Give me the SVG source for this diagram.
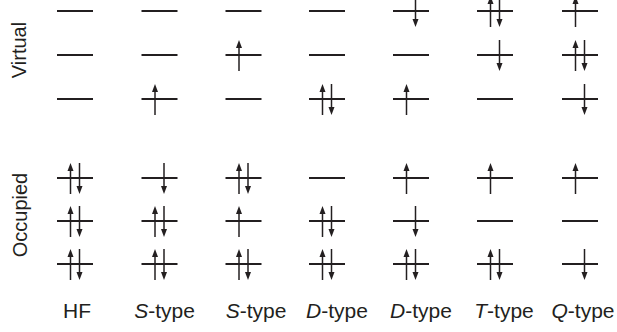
<svg xmlns="http://www.w3.org/2000/svg" width="617" height="332" viewBox="0 0 617 332">
<style>
.lv{stroke:#231f20;stroke-width:2;fill:none}
.ar{stroke:#231f20;stroke-width:1.5;fill:none;marker-end:url(#ah)}
.t{font-family:"Liberation Sans",Arial,sans-serif;font-size:20px;fill:#231f20}
.b{font-size:21px}
</style>
<defs>
<marker id="ah" markerUnits="userSpaceOnUse" markerWidth="8" markerHeight="6" refX="2" refY="3" orient="auto" overflow="visible">
<path d="M0,0 L8,3 L0,6 z" fill="#231f20"/>
</marker>
<line id="L" class="lv" x1="-18" y1="0" x2="18" y2="0"/>
<line id="U" class="ar" x1="-4.5" y1="16" x2="-4.5" y2="-9"/>
<line id="D" class="ar" x1="4.5" y1="-15" x2="4.5" y2="10"/>
</defs>
<rect width="617" height="332" fill="#fff"/>
<text class="t" transform="translate(26,50) rotate(-90)" text-anchor="middle">Virtual</text>
<text class="t" transform="translate(27,215) rotate(-90)" text-anchor="middle">Occupied</text>

<!-- HF -->
<g id="hf">
<g id="hf-v1" transform="translate(75,11)"><use href="#L"/></g>
<g id="hf-v2" transform="translate(75,55)"><use href="#L"/></g>
<g id="hf-v3" transform="translate(75,99)"><use href="#L"/></g>
<g id="hf-o1" transform="translate(75,178)"><use href="#L"/><use href="#U"/><use href="#D"/></g>
<g id="hf-o2" transform="translate(75,221)"><use href="#L"/><use href="#U"/><use href="#D"/></g>
<g id="hf-o3" transform="translate(75,264)"><use href="#L"/><use href="#U"/><use href="#D"/></g>
</g>
<!-- S1 -->
<g id="s1">
<g id="s1-v1" transform="translate(159.5,11)"><use href="#L"/></g>
<g id="s1-v2" transform="translate(159.5,55)"><use href="#L"/></g>
<g id="s1-v3" transform="translate(159.5,99)"><use href="#L"/><use href="#U"/></g>
<g id="s1-o1" transform="translate(159.5,178)"><use href="#L"/><use href="#D"/></g>
<g id="s1-o2" transform="translate(159.5,221)"><use href="#L"/><use href="#U"/><use href="#D"/></g>
<g id="s1-o3" transform="translate(159.5,264)"><use href="#L"/><use href="#U"/><use href="#D"/></g>
</g>
<!-- S2 -->
<g id="s2">
<g id="s2-v1" transform="translate(243.5,11)"><use href="#L"/></g>
<g id="s2-v2" transform="translate(243.5,55)"><use href="#L"/><use href="#U"/></g>
<g id="s2-v3" transform="translate(243.5,99)"><use href="#L"/></g>
<g id="s2-o1" transform="translate(243.5,178)"><use href="#L"/><use href="#U"/><use href="#D"/></g>
<g id="s2-o2" transform="translate(243.5,221)"><use href="#L"/><use href="#U"/></g>
<g id="s2-o3" transform="translate(243.5,264)"><use href="#L"/><use href="#U"/><use href="#D"/></g>
</g>
<!-- D1 -->
<g id="d1">
<g id="d1-v1" transform="translate(327,11)"><use href="#L"/></g>
<g id="d1-v2" transform="translate(327,55)"><use href="#L"/></g>
<g id="d1-v3" transform="translate(327,99)"><use href="#L"/><use href="#U"/><use href="#D"/></g>
<g id="d1-o1" transform="translate(327,178)"><use href="#L"/></g>
<g id="d1-o2" transform="translate(327,221)"><use href="#L"/><use href="#U"/><use href="#D"/></g>
<g id="d1-o3" transform="translate(327,264)"><use href="#L"/><use href="#U"/><use href="#D"/></g>
</g>
<!-- D2 -->
<g id="d2">
<g id="d2-v1" transform="translate(411,11)"><use href="#L"/><use href="#D"/></g>
<g id="d2-v2" transform="translate(411,55)"><use href="#L"/></g>
<g id="d2-v3" transform="translate(411,99)"><use href="#L"/><use href="#U"/></g>
<g id="d2-o1" transform="translate(411,178)"><use href="#L"/><use href="#U"/></g>
<g id="d2-o2" transform="translate(411,221)"><use href="#L"/><use href="#D"/></g>
<g id="d2-o3" transform="translate(411,264)"><use href="#L"/><use href="#U"/><use href="#D"/></g>
</g>
<!-- T -->
<g id="t">
<g id="t-v1" transform="translate(495,11)"><use href="#L"/><use href="#U"/><use href="#D"/></g>
<g id="t-v2" transform="translate(495,55)"><use href="#L"/><use href="#D"/></g>
<g id="t-v3" transform="translate(495,99)"><use href="#L"/></g>
<g id="t-o1" transform="translate(495,178)"><use href="#L"/><use href="#U"/></g>
<g id="t-o2" transform="translate(495,221)"><use href="#L"/></g>
<g id="t-o3" transform="translate(495,264)"><use href="#L"/><use href="#U"/><use href="#D"/></g>
</g>
<!-- Q -->
<g id="q">
<g id="q-v1" transform="translate(580,11)"><use href="#L"/><use href="#U"/></g>
<g id="q-v2" transform="translate(580,55)"><use href="#L"/><use href="#U"/><use href="#D"/></g>
<g id="q-v3" transform="translate(580,99)"><use href="#L"/><use href="#D"/></g>
<g id="q-o1" transform="translate(580,178)"><use href="#L"/><use href="#U"/></g>
<g id="q-o2" transform="translate(580,221)"><use href="#L"/></g>
<g id="q-o3" transform="translate(580,264)"><use href="#L"/><use href="#D"/></g>
</g>

<g id="labels">
<text class="t b" x="77" y="318" text-anchor="middle">HF</text>
<text class="t b" x="164.5" y="318" text-anchor="middle"><tspan font-style="italic">S</tspan>-type</text>
<text class="t b" x="256" y="318" text-anchor="middle"><tspan font-style="italic">S</tspan>-type</text>
<text class="t b" x="337" y="318" text-anchor="middle"><tspan font-style="italic">D</tspan>-type</text>
<text class="t b" x="421" y="318" text-anchor="middle"><tspan font-style="italic">D</tspan>-type</text>
<text class="t b" x="504" y="318" text-anchor="middle"><tspan font-style="italic">T</tspan>-type</text>
<text class="t b" x="583" y="318" text-anchor="middle"><tspan font-style="italic">Q</tspan>-type</text>
</g>
</svg>
